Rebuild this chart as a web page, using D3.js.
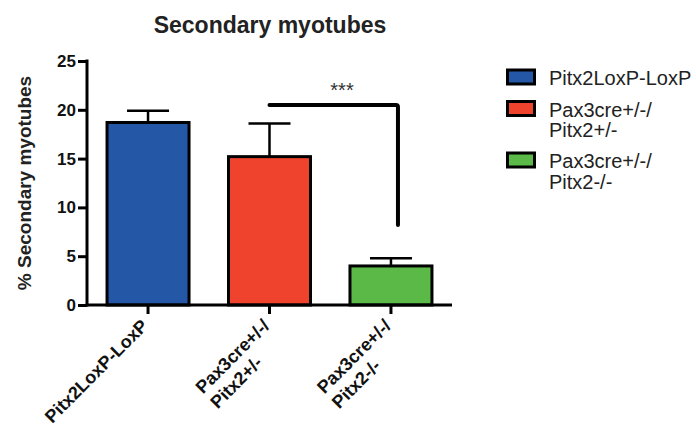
<!DOCTYPE html>
<html>
<head>
<meta charset="utf-8">
<script src="https://cdn.jsdelivr.net/npm/d3@7"></script>
<style>
  html, body { margin: 0; padding: 0; background: #fff; }
  svg { display: block; font-family: Arial, "Liberation Sans", Helvetica, sans-serif; }
</style>
</head>
<body>
<svg id="chart" width="696" height="426"></svg>
<script>
// Groups, means and upper SEM for the percentage of secondary myotubes
const groups = ["Pitx2LoxP-LoxP", "Pax3cre+/-/\nPitx2+/-", "Pax3cre+/-/\nPitx2-/-"];
const means = [18.7, 15.2, 4.0];
const errors = [1.2, 3.4, 0.8];
const colors = ["#2457a6", "#ef432e", "#5bb947"];
const yTicks = [0, 5, 10, 15, 20, 25];
// Significance bracket between group 2 and group 3
const bracketLevel = 20.5;
const bracketEnd = 8.2;
const bracketLabel = "***";

const svg = d3.select("#chart");
const plotLeft = 87, plotRight = 452, plotTop = 61, plotBottom = 305;

const x = d3.scaleBand()
  .domain(groups)
  .range([plotLeft, plotRight])
  .paddingInner(0.325)
  .paddingOuter(0.165);

const y = d3.scaleLinear().domain([0, 25]).range([plotBottom, plotTop]);

// Title
svg.append("text")
  .attr("x", 270).attr("y", 33)
  .attr("text-anchor", "middle")
  .attr("font-size", 23).attr("font-weight", "bold")
  .attr("fill", "#222")
  .text("Secondary myotubes");

// Y axis title
svg.append("text")
  .attr("transform", `translate(31,${(plotTop + plotBottom) / 2}) rotate(-90)`)
  .attr("text-anchor", "middle")
  .attr("font-size", 19).attr("font-weight", "bold")
  .attr("fill", "#222")
  .text("% Secondary myotubes");

// Bars
svg.append("g").selectAll("rect")
  .data(groups)
  .join("rect")
  .attr("x", d => x(d))
  .attr("y", (d, i) => y(means[i]))
  .attr("width", x.bandwidth())
  .attr("height", (d, i) => y(0) - y(means[i]))
  .attr("fill", (d, i) => colors[i])
  .attr("stroke", "#000")
  .attr("stroke-width", 3);

// Error bars (upper only)
const eb = svg.append("g").attr("stroke", "#000").attr("stroke-width", 2.5);
groups.forEach((g, i) => {
  const cx = x(g) + x.bandwidth() / 2;
  eb.append("line")
    .attr("x1", cx).attr("x2", cx)
    .attr("y1", y(means[i])).attr("y2", y(means[i] + errors[i]));
  eb.append("line")
    .attr("x1", cx - 21).attr("x2", cx + 21)
    .attr("y1", y(means[i] + errors[i])).attr("y2", y(means[i] + errors[i]));
});

// Y axis
const yAxis = svg.append("g")
  .attr("transform", `translate(${plotLeft},0)`)
  .call(d3.axisLeft(y).tickValues(yTicks).tickSize(9).tickPadding(2).tickSizeOuter(0));
yAxis.select(".domain").attr("stroke", "#000").attr("stroke-width", 3)
  .attr("d", `M0,${plotTop - 1.5}V${plotBottom + 1.5}`);
yAxis.selectAll(".tick line").attr("stroke", "#000").attr("stroke-width", 3);
yAxis.selectAll(".tick text")
  .attr("font-size", 17).attr("font-weight", "bold")
  .attr("font-family", "Arial, 'Liberation Sans', sans-serif")
  .attr("fill", "#111");

// X axis
const xAxis = svg.append("g")
  .attr("transform", `translate(0,${plotBottom})`)
  .call(d3.axisBottom(x).tickSize(9).tickSizeOuter(0).tickFormat(""));
xAxis.select(".domain").attr("stroke", "#000").attr("stroke-width", 3)
  .attr("d", `M${plotLeft - 1.5},0H${plotRight}`);
xAxis.selectAll(".tick line").attr("stroke", "#000").attr("stroke-width", 3);

// Rotated, multi-line category labels (left-aligned block ending at the tick)
groups.forEach(g => {
  const cx = x(g) + x.bandwidth() / 2;
  const lines = g.split("\n");
  const t = svg.append("text")
    .attr("transform", `translate(${cx + 1},${plotBottom + 22}) rotate(-45)`)
    .attr("font-size", 18).attr("font-weight", "bold")
    .attr("fill", "#111")
    .attr("text-anchor", "start");
  const spans = lines.map((ln, k) => t.append("tspan")
    .attr("x", 0).attr("dy", k === 0 ? 0 : 21).text(ln));
  const w = spans[0].node().getComputedTextLength();
  spans.forEach(s => s.attr("x", -w));
});

// Significance bracket
const g2 = groups[1], g3 = groups[2];
const bx1 = x(g2) + x.bandwidth() / 2;
const bx2 = x(g3) + x.bandwidth() / 2 + 7;
svg.append("path")
  .attr("d", `M${bx1},${y(bracketLevel)}H${bx2 - 2}Q${bx2},${y(bracketLevel)} ${bx2},${y(bracketLevel) + 2}V${y(bracketEnd)}`)
  .attr("fill", "none").attr("stroke", "#000").attr("stroke-width", 4)
  .attr("stroke-linecap", "round");
svg.append("text")
  .attr("x", 342).attr("y", 97)
  .attr("text-anchor", "middle")
  .attr("font-size", 20).attr("fill", "#333")
  .text(bracketLabel);

// Legend
const legendLabels = [["Pitx2LoxP-LoxP"], ["Pax3cre+/-/", "Pitx2+/-"], ["Pax3cre+/-/", "Pitx2-/-"]];
const legendBaselines = [85, 116.5, 168];
const lg = svg.append("g");
legendLabels.forEach((lines, i) => {
  const b = legendBaselines[i];
  lg.append("rect")
    .attr("x", 507.5).attr("y", b - 15)
    .attr("width", 27).attr("height", 14)
    .attr("fill", colors[i]).attr("stroke", "#000").attr("stroke-width", 3);
  const t = lg.append("text")
    .attr("x", 549).attr("y", b)
    .attr("font-size", 20).attr("fill", "#222");
  lines.forEach((ln, k) => t.append("tspan")
    .attr("x", 549).attr("dy", k === 0 ? 0 : 20.5).text(ln));
});
</script>
</body>
</html>
